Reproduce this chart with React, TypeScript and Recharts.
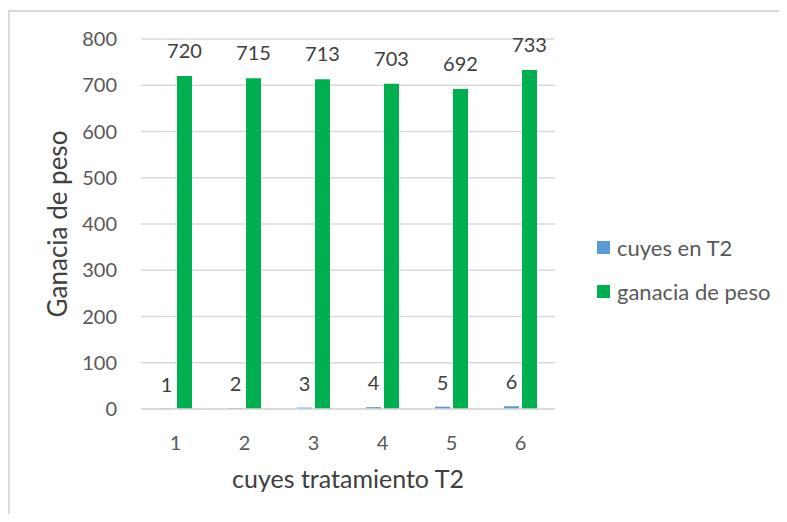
import { BarChart, Bar, XAxis, YAxis, CartesianGrid, LabelList } from "recharts";

const cuyes = ["1", "2", "3", "4", "5", "6"];
const cuyesEnT2 = [1, 2, 3, 4, 5, 6];
const gananciaPeso = [720, 715, 713, 703, 692, 733];
const yTicks = [0, 100, 200, 300, 400, 500, 600, 700, 800];

const BLUE = "#5b9bd5";
const GREEN = "#00b050";
const GRID = "#d9d9d9";
const TEXT = "#595959";
const FONT = "Lato, 'Open Sans', sans-serif";

const data = cuyes.map((c, i) => ({
  cuy: c,
  t2: cuyesEnT2[i],
  peso: gananciaPeso[i],
}));

const legendItems = [
  { name: "cuyes en T2", color: BLUE },
  { name: "ganacia de peso", color: GREEN },
];

export default function App() {
  return (
    <div style={{ position: "relative", width: 779, height: 506, fontFamily: FONT }}>
      <div
        style={{
          position: "absolute",
          top: 2,
          left: 0,
          right: -20,
          bottom: -20,
          borderTop: `2px solid ${GRID}`,
          borderLeft: `2px solid ${GRID}`,
        }}
      />
      <BarChart
        width={779}
        height={506}
        data={data}
        margin={{ top: 31, right: 232, bottom: 0, left: 0 }}
        barSize={15}
        barGap={3}
        style={{ position: "absolute", top: 0, left: 0 }}
      >
        <CartesianGrid vertical={false} stroke={GRID} strokeWidth={1.5} />
        <XAxis
          dataKey="cuy"
          height={105}
          axisLine={{ stroke: GRID, strokeWidth: 1.5 }}
          tickLine={false}
          tickSize={0}
          tickMargin={27}
          tick={{ fill: TEXT, fontSize: 20, fontFamily: FONT }}
          label={{
            value: "cuyes tratamiento T2",
            position: "insideBottom",
            offset: 26,
            style: { fill: "#404040", fontSize: 25, fontFamily: FONT },
          }}
        />
        <YAxis
          width={133}
          domain={[0, 800]}
          ticks={yTicks}
          axisLine={false}
          tickLine={false}
          tickSize={0}
          tickMargin={24}
          tick={{ fill: TEXT, fontSize: 20, fontFamily: FONT }}
          label={{
            value: "Ganacia de peso",
            angle: -90,
            position: "insideLeft",
            offset: 50,
            style: { textAnchor: "middle", fill: "#404040", fontSize: 26, fontFamily: FONT },
          }}
        />
        <Bar dataKey="t2" name="cuyes en T2" fill={BLUE} isAnimationActive={false}>
          <LabelList
            dataKey="t2"
            position="top"
            offset={17}
            style={{ fill: "#404040", fontSize: 20, fontFamily: FONT }}
          />
        </Bar>
        <Bar dataKey="peso" name="ganacia de peso" fill={GREEN} isAnimationActive={false}>
          <LabelList
            dataKey="peso"
            position="top"
            offset={18}
            style={{ fill: "#404040", fontSize: 20, fontFamily: FONT }}
          />
        </Bar>
      </BarChart>
      <div style={{ position: "absolute", left: 589, top: 217 }}>
        {legendItems.map((item) => (
          <div
            key={item.name}
            style={{
              display: "flex",
              alignItems: "center",
              height: 44,
              fontSize: 22,
              color: TEXT,
            }}
          >
            <span
              style={{
                display: "inline-block",
                width: 13,
                height: 13,
                background: item.color,
                marginRight: 7,
              }}
            />
            {item.name}
          </div>
        ))}
      </div>
    </div>
  );
}
